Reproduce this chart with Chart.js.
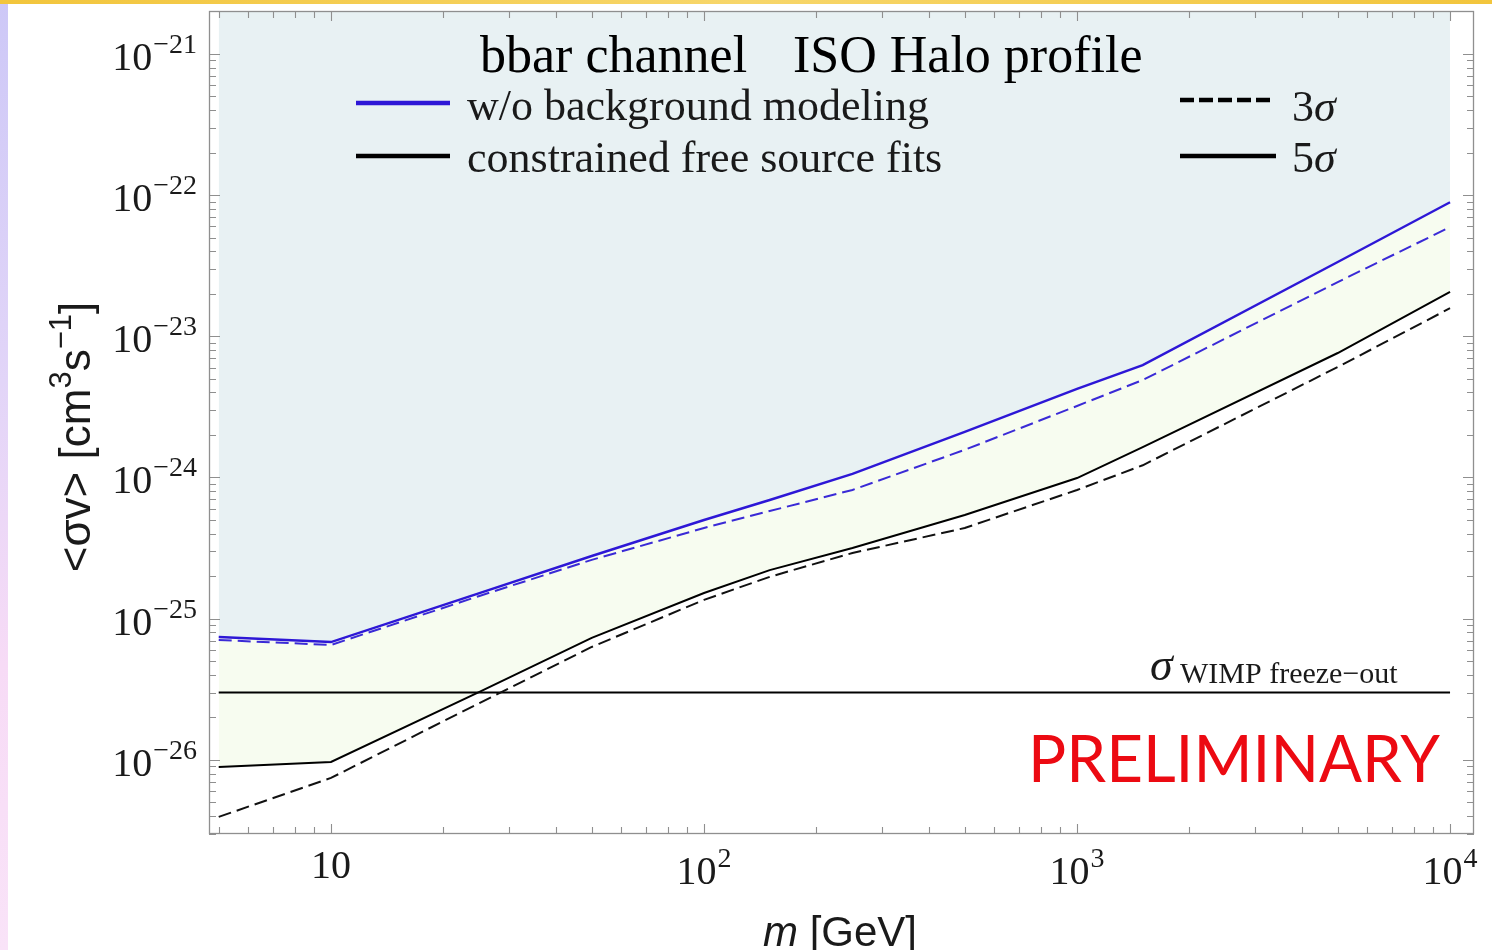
<!DOCTYPE html>
<html>
<head>
<meta charset="utf-8">
<script src="https://cdn.jsdelivr.net/npm/chart.js@4.4.0/dist/chart.umd.min.js"></script>
<style>
  body { margin: 0; width: 1492px; height: 950px; overflow: hidden;
    background: linear-gradient(to bottom, #cdc8f7 0%, #e2d5f8 40%, #f7dbf6 70%, #f9e3f8 100%); }
  #topband { position: absolute; left: 0; top: 0; width: 1492px; height: 4px;
    background: linear-gradient(to right, #f2c53c, #f7d66a, #f2c53c); }
  #wrap { position: absolute; left: 0; top: 0; width: 1492px; height: 950px; }
</style>
</head>
<body>
<div id="topband"></div>
<div id="wrap"><canvas id="myChart"></canvas></div>
<script>
// DM mass [GeV]
var masses = [5, 10, 25, 50, 100, 150, 250, 500, 1000, 1500, 5000, 10000];
// <sigma v> [cm^3 s^-1]
var noBg5sigma  = [7.43e-26, 6.84e-26, 1.52e-25, 2.78e-25, 5.0e-25, 6.93e-25, 1.06e-24, 2.10e-24, 4.24e-24, 6.25e-24, 3.36e-23, 8.9e-23];
var noBg3sigma  = [7.07e-26, 6.52e-26, 1.45e-25, 2.61e-25, 4.39e-25, 5.79e-25, 8.16e-25, 1.57e-24, 3.21e-24, 4.90e-24, 2.42e-23, 5.93e-23];
var fits5sigma  = [8.92e-27, 9.68e-27, 3.03e-26, 7.31e-26, 1.52e-25, 2.21e-25, 3.17e-25, 5.43e-25, 9.91e-25, 1.64e-24, 7.61e-24, 2.06e-23];
var fits3sigma  = [3.95e-27, 7.46e-27, 2.53e-26, 6.31e-26, 1.36e-25, 1.98e-25, 2.92e-25, 4.39e-25, 8.16e-25, 1.22e-24, 6.06e-24, 1.58e-23];
var freezeOutMass = [5, 10000];
var freezeOut = [3e-26, 3e-26];

// tick labels (powers of ten)
var xLabelExps = [1, 2, 3, 4];
var yLabelExps = [-26, -25, -24, -23, -22, -21];
var mantissas = [2, 3, 4, 5, 6, 7, 8, 9];

var BLUE = '#2d17d6';
var SERIF = '"Liberation Serif", "Times New Roman", serif';
var SANS = '"Liberation Sans", Arial, sans-serif';

function pts(xs, ys) {
	return xs.map(function (x, i) { return { x: x, y: ys[i] }; });
}

function powLabel(ctx, exp, x, baseY, align) {
	var sup = exp === 1 ? '' : String(exp).replace('-', '\u2212');
	ctx.font = '40px ' + SERIF;
	var wb = ctx.measureText('10').width;
	ctx.font = '28px ' + SERIF;
	var ws = sup ? ctx.measureText(sup).width + 1 : 0;
	var x0 = align === 'right' ? x - wb - ws : x - (wb + ws) / 2;
	ctx.textAlign = 'left';
	ctx.textBaseline = 'alphabetic';
	ctx.font = '40px ' + SERIF;
	ctx.fillText('10', x0, baseY);
	if (sup) {
		ctx.font = '28px ' + SERIF;
		ctx.fillText(sup, x0 + wb + 1, baseY - 17);
	}
}

var paper = {
	id: 'paper',
	beforeDraw: function (chart) {
		var ctx = chart.ctx;
		ctx.save();
		ctx.fillStyle = '#ffffff';
		ctx.fillRect(8, 4, chart.width - 8, chart.height - 4);
		ctx.restore();
	}
};

var frame = {
	id: 'frame',
	afterDraw: function (chart) {
		var ctx = chart.ctx, a = chart.chartArea;
		var xs = chart.scales.x, ys = chart.scales.y;
		ctx.save();
		ctx.strokeStyle = '#8f8f8f';
		ctx.lineWidth = 1.3;
		ctx.strokeRect(a.left + 0.5, a.top + 0.5, a.right - a.left - 1, a.bottom - a.top - 1);

		// x ticks, top and bottom, pointing in
		ctx.lineWidth = 1.1;
		for (var e = 0; e <= 4; e++) {
			var list = [];
			if (e > 0) list.push({ v: Math.pow(10, e), len: 10 });
			mantissas.forEach(function (m) { list.push({ v: m * Math.pow(10, e), len: 7 }); });
			list.forEach(function (t) {
				if (t.v < xs.min || t.v > xs.max) return;
				var px = Math.round(xs.getPixelForValue(t.v)) + 0.5;
				ctx.beginPath();
				ctx.moveTo(px, a.bottom); ctx.lineTo(px, a.bottom - t.len);
				ctx.moveTo(px, a.top); ctx.lineTo(px, a.top + t.len);
				ctx.stroke();
			});
		}
		// y ticks, left and right
		for (var k = -27; k <= -21; k++) {
			var yl = [{ v: Math.pow(10, k), len: 11 }];
			mantissas.forEach(function (m) { yl.push({ v: m * Math.pow(10, k), len: 7 }); });
			yl.forEach(function (t) {
				if (t.v < ys.min || t.v > ys.max) return;
				var py = Math.round(ys.getPixelForValue(t.v)) + 0.5;
				ctx.beginPath();
				ctx.moveTo(a.left, py); ctx.lineTo(a.left + t.len, py);
				ctx.moveTo(a.right, py); ctx.lineTo(a.right - t.len, py);
				ctx.stroke();
			});
		}

		// tick labels
		ctx.fillStyle = '#1a1a1a';
		xLabelExps.forEach(function (e) {
			var px = xs.getPixelForValue(Math.pow(10, e));
			powLabel(ctx, e, px, e === 1 ? 878 : 884, 'center');
		});
		yLabelExps.forEach(function (e) {
			var py = ys.getPixelForValue(Math.pow(10, e));
			powLabel(ctx, e, 197, py + 16, 'right');
		});

		// axis titles
		ctx.textBaseline = 'alphabetic';
		ctx.textAlign = 'left';
		ctx.font = 'italic 42px ' + SANS;
		var wm = ctx.measureText('m').width;
		ctx.font = '42px ' + SANS;
		var wr = ctx.measureText(' [GeV]').width;
		var x0 = 840 - (wm + wr) / 2;
		ctx.font = 'italic 42px ' + SANS;
		ctx.fillText('m', x0, 946);
		ctx.font = '42px ' + SANS;
		ctx.fillText(' [GeV]', x0 + wm, 946);

		ctx.save();
		ctx.translate(90, 437);
		ctx.rotate(-Math.PI / 2);
		var parts = [['<\u03c3v> [cm', 44, 0], ['3', 31, -19], ['s', 44, 0], ['\u22121', 31, -19], [']', 44, 0]];
		var tot = 0;
		parts.forEach(function (p) { ctx.font = p[1] + 'px ' + SANS; tot += ctx.measureText(p[0]).width; });
		var cx = -tot / 2;
		parts.forEach(function (p) {
			ctx.font = p[1] + 'px ' + SANS;
			ctx.fillText(p[0], cx, p[2]);
			cx += ctx.measureText(p[0]).width;
		});
		ctx.restore();

		// title
		ctx.fillStyle = '#000';
		ctx.font = '52px ' + SERIF;
		ctx.fillText('bbar channel', 480, 72);
		ctx.fillText('ISO Halo profile', 793, 72);

		// legend
		ctx.lineCap = 'butt';
		ctx.lineWidth = 4.5;
		ctx.strokeStyle = BLUE;
		ctx.beginPath(); ctx.moveTo(356, 103); ctx.lineTo(450, 103); ctx.stroke();
		ctx.strokeStyle = '#000';
		ctx.beginPath(); ctx.moveTo(356, 156); ctx.lineTo(450, 156); ctx.stroke();
		ctx.setLineDash([14, 5]);
		ctx.beginPath(); ctx.moveTo(1180, 100); ctx.lineTo(1273, 100); ctx.stroke();
		ctx.setLineDash([]);
		ctx.beginPath(); ctx.moveTo(1180, 156); ctx.lineTo(1276, 156); ctx.stroke();

		ctx.font = '44px ' + SERIF;
		ctx.fillStyle = '#1a1a1a';
		ctx.fillText('w/o background modeling', 467, 120);
		ctx.fillText('constrained free source fits', 467, 172);
		ctx.fillText('3', 1292, 121);
		ctx.fillText('5', 1292, 172);
		var w3 = ctx.measureText('3').width;
		ctx.font = 'italic 44px ' + SERIF;
		ctx.fillText('\u03c3', 1292 + w3, 121);
		ctx.fillText('\u03c3', 1292 + w3, 172);

		// freeze-out label
		ctx.font = 'italic 46px ' + SERIF;
		ctx.fillText('\u03c3', 1150, 680);
		ctx.font = '30px ' + SERIF;
		ctx.fillText('WIMP freeze\u2212out', 1180, 683);

		// PRELIMINARY
		ctx.font = '65px Lato, "Open Sans", sans-serif';
		var wp = ctx.measureText('PRELIMINARY').width;
		ctx.save();
		ctx.translate(1028, 782);
		ctx.scale(412 / wp, 1);
		ctx.fillStyle = '#ec0a12';
		ctx.fillText('PRELIMINARY', 0, 0);
		ctx.restore();

		ctx.restore();
	}
};

var ctx = document.getElementById('myChart').getContext('2d');
var myChart = new Chart(ctx, {
	type: 'line',
	data: {
		datasets: [{
			label: 'w/o background modeling 5sigma',
			data: pts(masses, noBg5sigma),
			borderColor: BLUE,
			borderWidth: 2.4,
			backgroundColor: 'rgb(232,241,243)',
			fill: 'end'
		}, {
			label: 'w/o background modeling 3sigma',
			data: pts(masses, noBg3sigma),
			borderColor: '#3a2ad6',
			borderWidth: 2,
			borderDash: [13, 6],
			fill: false
		}, {
			label: 'constrained free source fits 5sigma',
			data: pts(masses, fits5sigma),
			borderColor: '#000',
			borderWidth: 2,
			backgroundColor: 'rgb(247,252,240)',
			fill: 0
		}, {
			label: 'constrained free source fits 3sigma',
			data: pts(masses, fits3sigma),
			borderColor: '#111',
			borderWidth: 2,
			borderDash: [13, 6],
			fill: false
		}, {
			label: 'WIMP freeze-out',
			data: pts(freezeOutMass, freezeOut),
			borderColor: '#000',
			borderWidth: 2,
			fill: false
		}]
	},
	options: {
		responsive: true,
		maintainAspectRatio: false,
		animation: false,
		layout: { padding: { left: 209, right: 18, top: 11, bottom: 116 } },
		elements: { point: { radius: 0 }, line: { tension: 0 } },
		scales: {
			x: { type: 'logarithmic', min: 4.709, max: 11594, display: false },
			y: { type: 'logarithmic', min: 2.99e-27, max: 2.01e-21, display: false }
		},
		plugins: {
			legend: { display: false },
			tooltip: { enabled: false },
			filler: { drawTime: 'beforeDatasetsDraw' }
		}
	},
	plugins: [paper, frame]
});
</script>
</body>
</html>
